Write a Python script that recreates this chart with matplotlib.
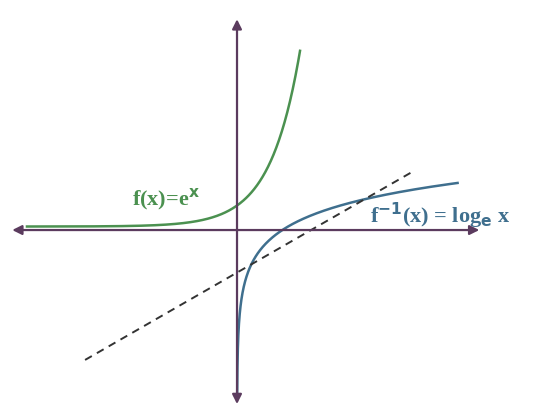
import numpy as np
import matplotlib.pyplot as plt

# curve domains (data units)
exp_range = [-6.0, 1.8]
log_range = [0.005, 6.3]
diag_x = [-4.34, 5.09]
diag_y = [-3.71, 1.71]
exp_label = "f(x)=e$^{\\mathbf{x}}$"
log_label = "f$^{\\mathbf{-1}}$(x) = log$_{\\mathbf{e}}$ x"

axis_col = "#5b3b5e"
green = "#4b9150"
blue = "#3f6f8e"

fig = plt.figure(figsize=(5.5, 4.17), dpi=100)
ax = fig.add_axes([0, 0, 1, 1])
ax.set_xlim(-6.77, 8.94)
ax.set_ylim(-5.34, 6.57)
ax.axis("off")

arrow = dict(arrowstyle="<|-|>", color=axis_col, lw=1.6, mutation_scale=14)
ax.annotate("", xy=(-6.5, 0), xytext=(7.0, 0), arrowprops=arrow)
ax.annotate("", xy=(0, -5.05), xytext=(0, 6.1), arrowprops=arrow)

xe = np.linspace(*exp_range, 300)
ax.plot(xe, 0.1 + 0.6 * np.exp(1.18 * xe), color=green, lw=1.8)
xl = np.geomspace(*log_range, 400)
ax.plot(xl, 0.85 * np.log(xl) - 0.22, color=blue, lw=1.8)
ax.plot(diag_x, diag_y, color="#333333", lw=1.4, ls=(0, (4, 3)))

ax.text(-3.0, 0.85, exp_label, color=green, fontsize=16, fontweight="bold",
        family="Liberation Serif", va="center")
ax.text(3.8, 0.4, log_label, color=blue, fontsize=16, fontweight="bold",
        family="Liberation Serif", va="center")

fig.savefig("out.png", dpi=100)
